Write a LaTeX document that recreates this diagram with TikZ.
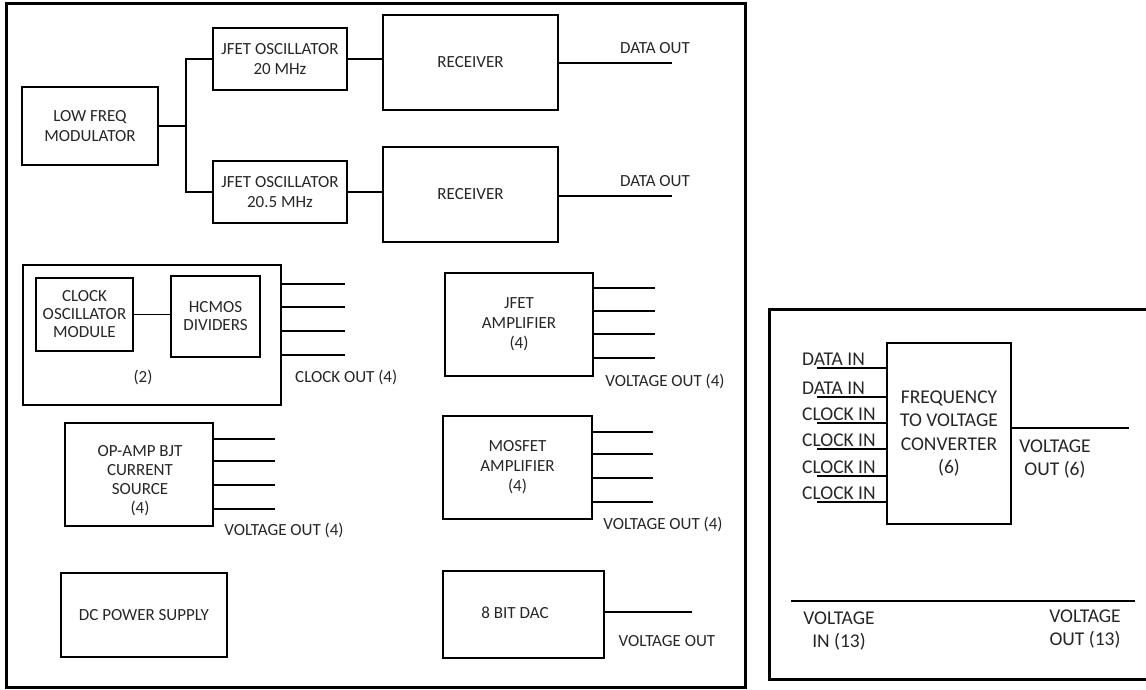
\documentclass[tikz,border=0pt]{standalone}
\usepackage{fontspec}
\setmainfont{Carlito}
\usetikzlibrary{calc}
\definecolor{txt}{HTML}{262626}
\tikzset{
  lf/.style={font=\fontsize{17}{20}\selectfont, text=txt, align=center, inner sep=0pt},
  rf/.style={font=\fontsize{19.5}{23.5}\selectfont, text=txt, align=center, inner sep=0pt},
  blk/.style={draw, line width=1.6pt, lf},
  wire/.style={line width=1.6pt},
  frame/.style={line width=3pt},
}
\begin{document}
\begin{tikzpicture}[x=1pt,y=-1pt]
\useasboundingbox (0,0) rectangle (1146,690);
% frames
\draw[frame] (6,4) rectangle (745,687);
\draw[frame] (1150,309) -- (769,309) -- (769,679) -- (1150,679);

% top section
\node[blk, minimum width=136pt, minimum height=78pt] (mod) at (90,126) {LOW FREQ\\MODULATOR};
\node[blk, minimum width=134pt, minimum height=62pt] (osc1) at (280,59) {JFET OSCILLATOR\\20 MHz};
\node[blk, minimum width=134pt, minimum height=62pt] (osc2) at (280,192) {JFET OSCILLATOR\\20.5 MHz};
\node[blk, minimum width=175pt, minimum height=95pt] (rec1) at (470.5,62.5) {RECEIVER};
\node[blk, minimum width=175pt, minimum height=95pt] (rec2) at (470.5,194.5) {RECEIVER};
\draw[wire] (mod.east) -- ++(27,0) coordinate (split) |- (osc1.west);
\draw[wire] (split) |- (osc2.west);
\draw[wire] (osc1.east) -- (osc1.east -| rec1.west);
\draw[wire] (osc2.east) -- (osc2.east -| rec2.west);
\coordinate (d1) at (672,63);
\coordinate (d2) at (672,196);
\draw[wire] (d1 -| rec1.east) -- (d1);
\draw[wire] (d2 -| rec2.east) -- (d2);
\node[lf] (d1l) at (655,48) {DATA OUT};
\node[lf] (d2l) at (655,181) {DATA OUT};

% clock group
\node[draw, line width=1.6pt, minimum width=258pt, minimum height=140pt] (clk) at (152,335) {};
\node[blk, minimum width=97pt, minimum height=73pt] (clkosc) at (84.5,314.5) {CLOCK\\[-2pt]OSCILLATOR\\[-2pt]MODULE};
\node[blk, minimum width=89pt, minimum height=81pt] (hcmos) at (215.5,316.5) {HCMOS\\[-2pt]DIVIDERS};
\draw[wire] (clkosc.east) -- (clkosc.east -| hcmos.west);
\node[lf] (two) at (143,377) {(2)};
\foreach \y [count=\i] in {284,307,331,355} {
  \coordinate (co\i) at (345,\y);
  \draw[wire] (co\i -| clk.east) -- (co\i);
}
\node[lf, anchor=west] (clkl) at (295,377) {CLOCK OUT (4)};

% op-amp
\node[blk, minimum width=148pt, minimum height=103pt] (opamp) at (139,474.5) {};
\node[lf] (opampt) at (140,481) {OP-AMP BJT\\[-1pt]CURRENT\\[-1pt]SOURCE\\[-1pt](4)};
\foreach \y [count=\i] in {439,461,485,509} {
  \coordinate (vo\i) at (275,\y);
  \draw[wire] (vo\i -| opamp.east) -- (vo\i);
}
\node[lf] (opl) at (284,530) {VOLTAGE OUT (4)};

% jfet amp
\node[blk, minimum width=148pt, minimum height=103pt] (jamp) at (519,324.5) {JFET\\AMPLIFIER\\(4)};
\foreach \y [count=\i] in {288,311,334,358} {
  \coordinate (ja\i) at (655,\y);
  \draw[wire] (ja\i -| jamp.east) -- (ja\i);
}
\node[lf] (jal) at (665,381) {VOLTAGE OUT (4)};

% mosfet amp
\node[blk, minimum width=149pt, minimum height=103pt] (mamp) at (517.5,467.5) {MOSFET\\AMPLIFIER\\(4)};
\foreach \y [count=\i] in {432,454,478,502} {
  \coordinate (ma\i) at (653,\y);
  \draw[wire] (ma\i -| mamp.east) -- (ma\i);
}
\node[lf] (mal) at (663,524) {VOLTAGE OUT (4)};

% power and dac
\node[blk, minimum width=166pt, minimum height=84pt] (dc) at (144,615) {DC POWER SUPPLY};
\node[draw, line width=1.6pt, minimum width=161pt, minimum height=87pt] (dac) at (523.5,614.5) {};
\node[lf] (dact) at (515,613) {8 BIT DAC};
\coordinate (dao) at (692,612);
\draw[wire] (dao -| dac.east) -- (dao);
\node[lf] (dal) at (667,641) {VOLTAGE OUT};

% right panel
\node[draw, line width=1.6pt, rf, minimum width=124pt, minimum height=181pt] (fvc) at (949,433.5) {FREQUENCY\\TO VOLTAGE\\CONVERTER\\(6)};
\foreach \y/\t [count=\i] in {368/DATA IN,397/DATA IN,423/CLOCK IN,449/CLOCK IN,476/CLOCK IN,502/CLOCK IN} {
  \coordinate (in\i) at (817,\y);
  \draw[wire] (in\i) -- (in\i -| fvc.west);
  \node[rf, anchor=base west] (inl\i) at (802,\y-3) {\t};
}
\coordinate (fo) at (1129,428);
\draw[wire] (fo -| fvc.east) -- (fo);
\node[rf] (fol) at (1055,459) {VOLTAGE\\OUT (6)};
\coordinate (bl) at (791,601);
\coordinate (br) at (1135,601);
\draw[wire] (bl) -- (br);
\node[rf] (vin) at (839,631) {VOLTAGE\\IN (13)};
\node[rf] (vout) at (1085,629) {VOLTAGE\\OUT (13)};
\end{tikzpicture}
\end{document}
